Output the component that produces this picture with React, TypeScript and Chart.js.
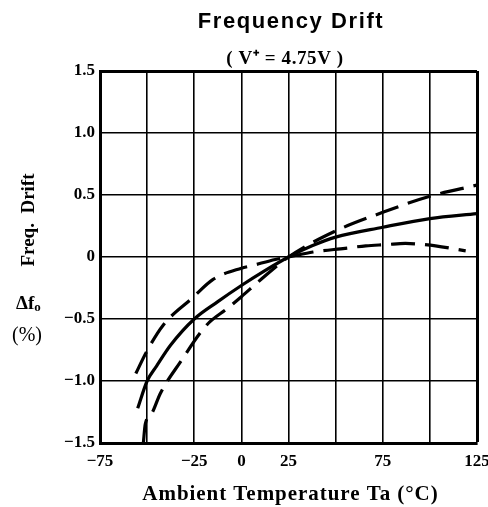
import React, { useEffect, useRef } from "react";
import { Chart, registerables } from "chart.js";

Chart.register(...registerables);

const chartTitle = "Frequency Drift";
const chartSubtitle = "( V⁺ = 4.75V )";
const xAxisTitle = "Ambient Temperature Ta (°C)";
const yAxisTitle = "Freq.  Drift";

const xTickLabels: Record<number, string> = { [-75]: "−75", [-25]: "−25", 0: "0", 25: "25", 75: "75", 125: "125" };
const yTickLabels: Record<string, string> = { "1.5": "1.5", "1": "1.0", "0.5": "0.5", "0": "0", "-0.5": "−0.5", "-1": "−1.0", "-1.5": "−1.5" };

// Solid (typical) curve
const solidTemps = [-55, -50, -45, -37.5, -25, -12.5, 0, 12.5, 25, 37.5, 50, 75, 100, 125];
const solidDrift = [-1.22, -1.0, -0.88, -0.71, -0.5, -0.36, -0.23, -0.11, 0, 0.09, 0.16, 0.24, 0.31, 0.35];

// Dashed curve: steepest (lowest at left, highest at right)
const steepTemps = [-52, -51, -47.5, -43, -32.5, -18.5, -7, 0, 10.5, 25, 50, 75, 100, 125];
const steepDrift = [-1.5, -1.35, -1.26, -1.1, -0.85, -0.55, -0.41, -0.32, -0.18, 0, 0.21, 0.36, 0.49, 0.58];

// Dashed curve: flattest (highest at left, lowest at right)
const flatTemps = [-56, -50.5, -41.5, -26, -15, 0, 5.5, 18, 25, 38, 55, 66, 77, 87, 97, 103, 119];
const flatDrift = [-0.94, -0.77, -0.55, -0.33, -0.18, -0.09, -0.07, -0.02, 0, 0.04, 0.07, 0.09, 0.1, 0.11, 0.1, 0.09, 0.05];

const toPoints = (xs: number[], ys: number[]) => xs.map((x, i) => ({ x, y: ys[i] }));

const SERIF = '"Liberation Serif", "Times New Roman", serif';

const labelsPlugin = {
  id: "labelsPlugin",
  afterDraw(chart: any) {
    const { ctx, chartArea } = chart;
    const cx = (chartArea.left + chartArea.right) / 2;
    ctx.save();
    ctx.fillStyle = "#000";
    ctx.textAlign = "center";
    ctx.textBaseline = "alphabetic";
    ctx.font = 'bold 22px "Liberation Sans", Arial, sans-serif';
    ctx.letterSpacing = "1.6px";
    ctx.fillText(chartTitle, cx + 2.5, 28);
    ctx.font = "bold 19px " + SERIF;
    ctx.letterSpacing = "0.6px";
    ctx.fillText(chartSubtitle, cx - 3.5, 64);
    ctx.letterSpacing = "0.95px";
    ctx.font = "bold 21px " + SERIF;
    ctx.fillText(xAxisTitle, cx + 2, 500);
    ctx.letterSpacing = "0px";
    // y axis title rotated
    ctx.save();
    ctx.translate(34, 220);
    ctx.rotate(-Math.PI / 2);
    ctx.font = "bold 19px " + SERIF;
    ctx.fillText(yAxisTitle, 0, 0);
    ctx.restore();
    // Δfo
    ctx.font = "bold 19px " + SERIF;
    ctx.textAlign = "left";
    ctx.fillText("Δf", 16, 309);
    const w = ctx.measureText("Δf").width;
    ctx.font = "bold 13px " + SERIF;
    ctx.fillText("o", 16 + w, 311);
    ctx.font = "20px " + SERIF;
    ctx.textAlign = "center";
    ctx.fillText("(%)", 27, 341);
    ctx.restore();
  },
};

export default function App() {
  const canvasRef = useRef<HTMLCanvasElement | null>(null);

  useEffect(() => {
    if (!canvasRef.current) return;
    const dash = [24, 10];
    const chart = new Chart(canvasRef.current, {
      type: "line",
      data: {
        datasets: [
          {
            label: "typical",
            data: toPoints(solidTemps, solidDrift),
            borderColor: "#000",
            borderWidth: 3.2,
            pointRadius: 0,
            cubicInterpolationMode: "monotone",
          },
          {
            label: "max",
            data: toPoints(steepTemps, steepDrift),
            borderColor: "#000",
            borderWidth: 3.2,
            borderDash: dash,
            pointRadius: 0,
            cubicInterpolationMode: "monotone",
          },
          {
            label: "min",
            data: toPoints(flatTemps, flatDrift),
            borderColor: "#000",
            borderWidth: 3.2,
            borderDash: dash,
            pointRadius: 0,
            cubicInterpolationMode: "monotone",
          },
        ],
      },
      options: {
        animation: false,
        responsive: false,
        parsing: false as any,
        layout: { padding: { top: 71, right: 11, left: 0, bottom: 0 } },
        plugins: { legend: { display: false }, tooltip: { enabled: false }, title: { display: false } },
        scales: {
          x: {
            type: "linear",
            min: -75,
            max: 125,
            afterFit: (s: any) => { s.height = 64; s.paddingLeft = 0; s.paddingRight = 0; },
            ticks: {
              stepSize: 25,
              autoSkip: false,
              maxRotation: 0,
              padding: 8,
              color: "#000",
              font: { family: SERIF, size: 17, weight: "bold" },
              callback: (v: any) => (xTickLabels[v as number] ?? ""),
            },
            grid: {
              color: "#000",
              lineWidth: (c: any) => (c.tick && c.tick.value === 125 ? 3 : 1.6),
              drawTicks: false,
            },
            border: { display: true, color: "#000", width: 3 },
          },
          y: {
            type: "linear",
            min: -1.5,
            max: 1.5,
            afterFit: (s: any) => { s.width = 100; s.paddingTop = 0; s.paddingBottom = 0; },
            ticks: {
              stepSize: 0.5,
              padding: 5,
              color: "#000",
              font: { family: SERIF, size: 17, weight: "bold" },
              callback: (v: any) => (yTickLabels[String(v)] ?? ""),
            },
            grid: {
              color: "#000",
              lineWidth: (c: any) => (c.tick && c.tick.value === 1.5 ? 3 : 1.6),
              drawTicks: false,
            },
            border: { display: true, color: "#000", width: 3 },
          },
        },
      },
      plugins: [labelsPlugin],
    });
    return () => chart.destroy();
  }, []);

  return (
    <div style={{ position: "fixed", left: 0, top: 0, width: 488, height: 507, background: "#fff" }}>
      <canvas ref={canvasRef} width={488} height={507} style={{ width: 488, height: 507 }} />
    </div>
  );
}
